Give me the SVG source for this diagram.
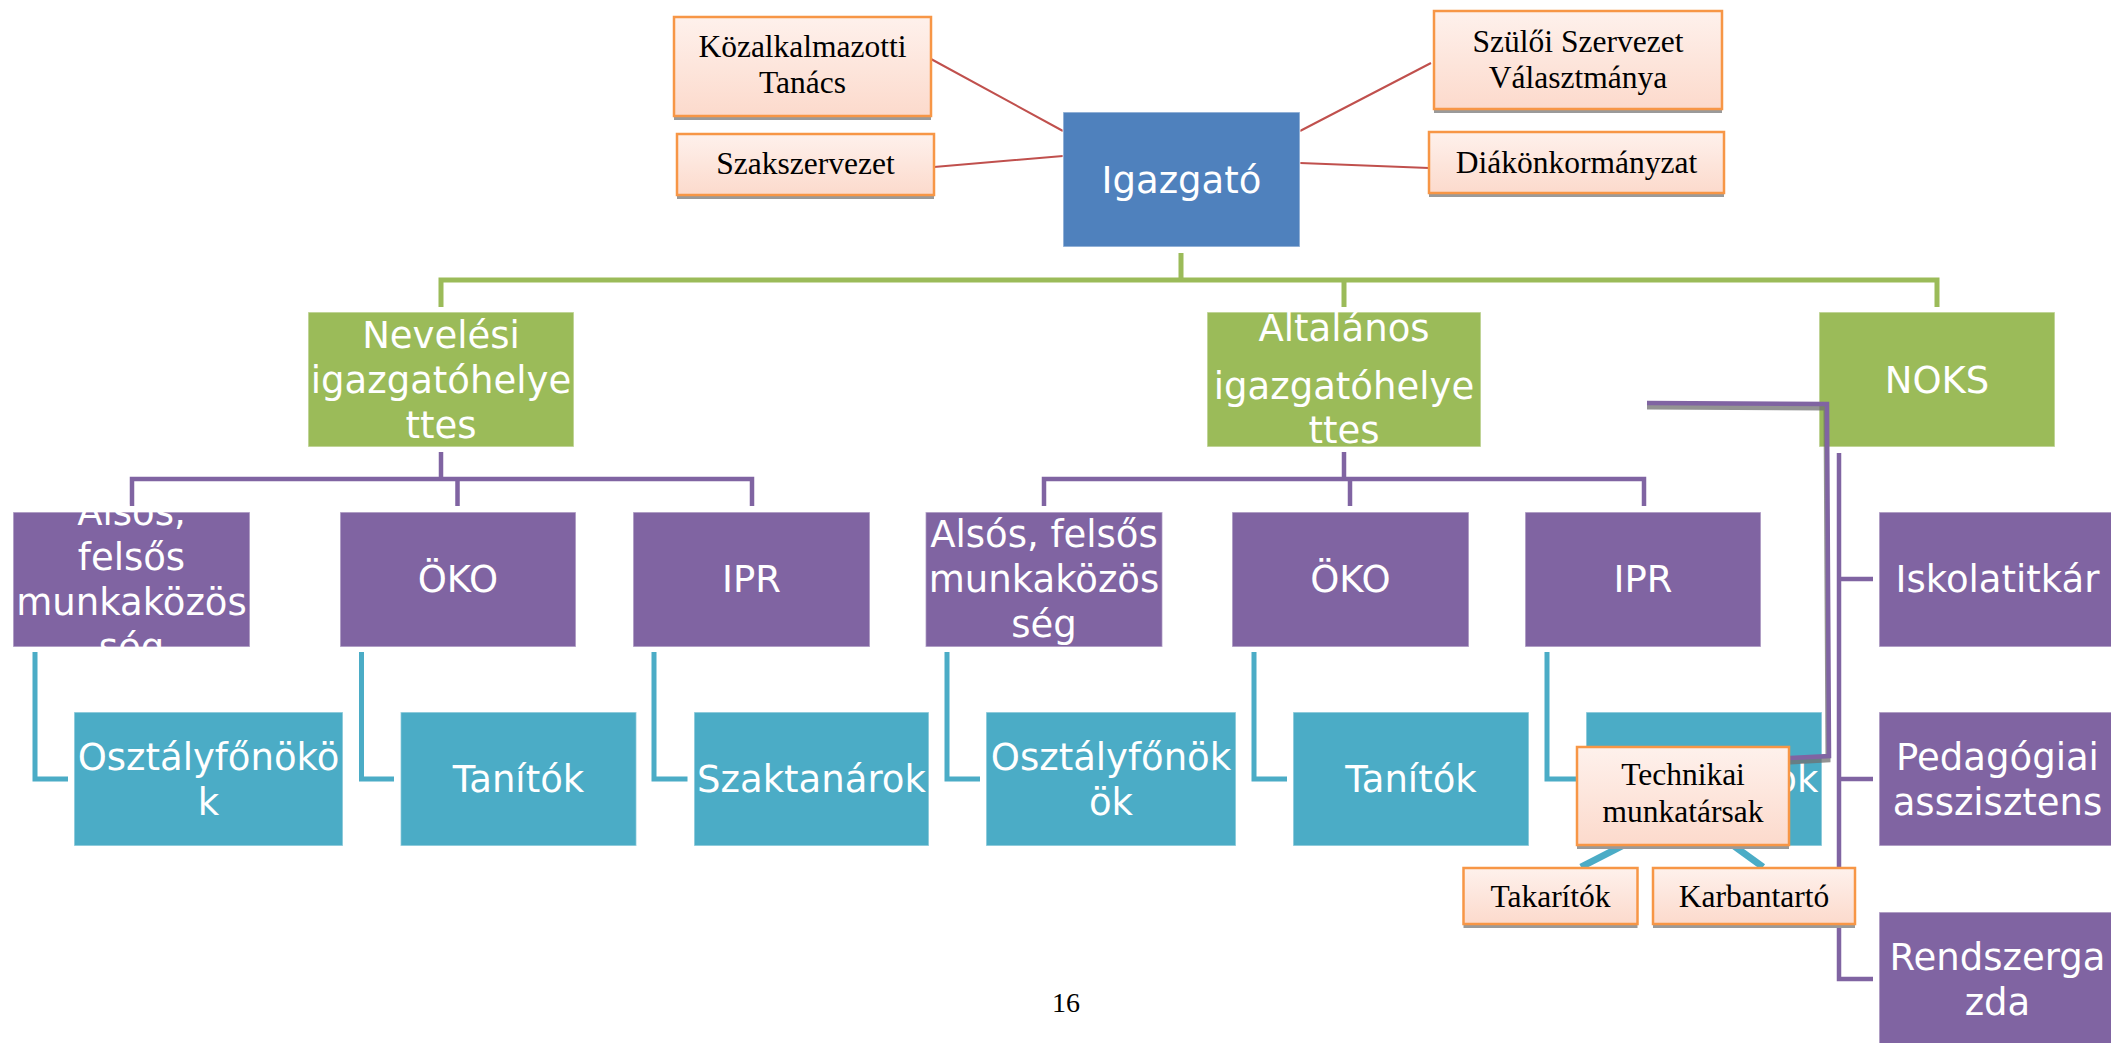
<svg xmlns="http://www.w3.org/2000/svg" width="2111" height="1043" viewBox="0 0 2111 1043">
<defs>
<linearGradient id="peach" x1="0" y1="0" x2="0" y2="1">
<stop offset="0" stop-color="#FEF1EC"/>
<stop offset="1" stop-color="#FCDACC"/>
</linearGradient>
<style>
.blue{fill:#4F81BD;stroke:#ffffff;stroke-opacity:0.5;stroke-width:1.5}
.green{fill:#9BBB59;stroke:#ffffff;stroke-opacity:0.5;stroke-width:1.5}
.purple{fill:#8064A2;stroke:#ffffff;stroke-opacity:0.5;stroke-width:1.5}
.cyan{fill:#4BACC6;stroke:#ffffff;stroke-opacity:0.5;stroke-width:1.5}
.peach{fill:url(#peach);stroke:#F79646;stroke-width:2.5}
.shadow{fill:#9a9a9a}
.wt{font-family:"DejaVu Sans",sans-serif;font-size:37px;fill:#ffffff;text-anchor:middle}
.bt{font-family:"Liberation Serif",serif;font-size:31.5px;fill:#000000;text-anchor:middle}
.red{stroke:#C0504D;stroke-width:2;fill:none}
.gl{stroke:#9BBB59;stroke-width:5;fill:none}
.pl{stroke:#8064A2;stroke-width:4.5;fill:none}
.cl{stroke:#4BACC6;stroke-width:5;fill:none}
.tl{stroke:#4BACC6;stroke-width:7;fill:none}
.sh{stroke:#6f6f6f;stroke-opacity:0.75;stroke-width:5;fill:none}
</style>
</defs>
<rect width="2111" height="1043" fill="#ffffff"/>

<g id="noks">
<rect class="green" x="1819" y="312" width="236" height="135"/>
<text class="wt" x="1937" y="392.5">NOKS</text>
</g>
<g id="szaktanarok2">
<rect class="cyan" x="1586" y="712" width="236" height="134"/>
<text class="wt" x="1704" y="792">Szaktanárok</text>
</g>

<g id="connectors">
<path class="red" d="M931,59 L1063,131 M934,167 L1063,156 M1300,131 L1431,63 M1300,163 L1429,168"/>
<path class="gl" d="M1181,253 V280 M441,307 V280 H1937 V307 M1344,280 V307"/>
<path class="pl" d="M441,452 V479 M132,506 V479 H752 V506 M457.5,479 V506"/>
<path class="pl" d="M1344,452 V479 M1044,506 V479 H1644 V506 M1350,479 V506"/>
<path class="pl" d="M1839,453 V979 H1873 M1839,579 H1873 M1839,779 H1873"/>
<path class="cl" d="M35,652 V779 H68 M361.5,652 V779 H394 M654,652 V779 H687.5 M947,652 V779 H980 M1254,652 V779 H1287 M1547,652 V779 H1577"/>
<path class="tl" d="M1622,846 L1581,867 M1734,846 L1763,867"/>
<path class="sh" d="M1647,407 L1826,408 L1828,760 L1790,762"/>
<path class="pl" d="M1647,403 L1827,404 L1829,756 L1790,758"/>
</g>

<g id="igazgato">
<rect class="blue" x="1063" y="112" width="237" height="135"/>
<text class="wt" x="1181.5" y="193">Igazgató</text>
</g>
<g id="kozalkalmazotti">
<rect class="shadow" x="674" y="21" width="257" height="99"/>
<rect class="peach" x="674" y="17" width="257" height="99"/>
<text class="bt" x="802.5" y="57">Közalkalmazotti</text>
<text class="bt" x="802.5" y="93">Tanács</text>
</g>
<g id="szakszervezet">
<rect class="shadow" x="677" y="138" width="257" height="61"/>
<rect class="peach" x="677" y="134" width="257" height="61"/>
<text class="bt" x="805.5" y="174">Szakszervezet</text>
</g>
<g id="szuloi">
<rect class="shadow" x="1434" y="15" width="288" height="98"/>
<rect class="peach" x="1434" y="11" width="288" height="98"/>
<text class="bt" x="1578" y="52">Szülői Szervezet</text>
<text class="bt" x="1578" y="88">Választmánya</text>
</g>
<g id="diak">
<rect class="shadow" x="1429" y="136" width="295" height="61"/>
<rect class="peach" x="1429" y="132" width="295" height="61"/>
<text class="bt" x="1576.5" y="173">Diákönkormányzat</text>
</g>

<g id="nevelesi">
<rect class="green" x="308" y="312" width="266" height="135"/>
<text class="wt" x="441" y="348">Nevelési</text>
<text class="wt" x="441" y="393">igazgatóhelye</text>
<text class="wt" x="441" y="438">ttes</text>
</g>
<g id="altalanos">
<rect class="green" x="1207" y="312" width="274" height="135"/>
<text class="wt" x="1344" y="341">Általános</text>
<text class="wt" x="1344" y="399">igazgatóhelye</text>
<text class="wt" x="1344" y="443">ttes</text>
</g>

<g id="alsos1">
<rect class="purple" x="13" y="512" width="237" height="135"/>
<text class="wt" x="131.5" y="525">Alsós,</text>
<text class="wt" x="131.5" y="570">felsős</text>
<text class="wt" x="131.5" y="615">munkaközös</text>
<text class="wt" x="131.5" y="660">ség</text>
</g>
<g id="oko1">
<rect class="purple" x="340" y="512" width="236" height="135"/>
<text class="wt" x="458" y="592">ÖKO</text>
</g>
<g id="ipr1">
<rect class="purple" x="633" y="512" width="237" height="135"/>
<text class="wt" x="751.5" y="592">IPR</text>
</g>
<g id="alsos2">
<rect class="purple" x="925.5" y="512" width="237" height="135"/>
<text class="wt" x="1044" y="547">Alsós, felsős</text>
<text class="wt" x="1044" y="592">munkaközös</text>
<text class="wt" x="1044" y="637">ség</text>
</g>
<g id="oko2">
<rect class="purple" x="1232" y="512" width="237" height="135"/>
<text class="wt" x="1350.5" y="592">ÖKO</text>
</g>
<g id="ipr2">
<rect class="purple" x="1525" y="512" width="236" height="135"/>
<text class="wt" x="1643" y="592">IPR</text>
</g>
<g id="iskolatitkar">
<rect class="purple" x="1879" y="512" width="237" height="135"/>
<text class="wt" x="1997.5" y="592">Iskolatitkár</text>
</g>

<g id="osztalyfonokok1">
<rect class="cyan" x="74" y="712" width="269" height="134"/>
<text class="wt" x="208.5" y="769.5">Osztályfőnökö</text>
<text class="wt" x="208.5" y="814.5">k</text>
</g>
<g id="tanitok1">
<rect class="cyan" x="400.5" y="712" width="236" height="134"/>
<text class="wt" x="518.5" y="792">Tanítók</text>
</g>
<g id="szaktanarok1">
<rect class="cyan" x="694" y="712" width="235" height="134"/>
<text class="wt" x="811.5" y="792">Szaktanárok</text>
</g>
<g id="osztalyfonokok2">
<rect class="cyan" x="986" y="712" width="250" height="134"/>
<text class="wt" x="1111" y="769.5">Osztályfőnök</text>
<text class="wt" x="1111" y="814.5">ök</text>
</g>
<g id="tanitok2">
<rect class="cyan" x="1293" y="712" width="236" height="134"/>
<text class="wt" x="1411" y="792">Tanítók</text>
</g>

<g id="pedagogiai">
<rect class="purple" x="1879" y="712" width="237" height="134"/>
<text class="wt" x="1997.5" y="769.5">Pedagógiai</text>
<text class="wt" x="1997.5" y="814.5">asszisztens</text>
</g>
<g id="rendszergazda">
<rect class="purple" x="1879" y="912" width="237" height="135"/>
<text class="wt" x="1997.5" y="970">Rendszerga</text>
<text class="wt" x="1997.5" y="1015">zda</text>
</g>

<g id="technikai">
<rect class="shadow" x="1577" y="751" width="212" height="98"/>
<rect class="peach" x="1577" y="747" width="212" height="98"/>
<text class="bt" x="1683" y="785">Technikai</text>
<text class="bt" x="1683" y="822">munkatársak</text>
</g>
<g id="takaritok">
<rect class="shadow" x="1463.5" y="872" width="174" height="56"/>
<rect class="peach" x="1463.5" y="868" width="174" height="56"/>
<text class="bt" x="1550.5" y="907">Takarítók</text>
</g>
<g id="karbantarto">
<rect class="shadow" x="1653" y="872" width="202" height="56"/>
<rect class="peach" x="1653" y="868" width="202" height="56"/>
<text class="bt" x="1754" y="907">Karbantartó</text>
</g>

<text x="1066" y="1012" font-family="Liberation Serif, serif" font-size="28" fill="#000000" text-anchor="middle">16</text>
</svg>
